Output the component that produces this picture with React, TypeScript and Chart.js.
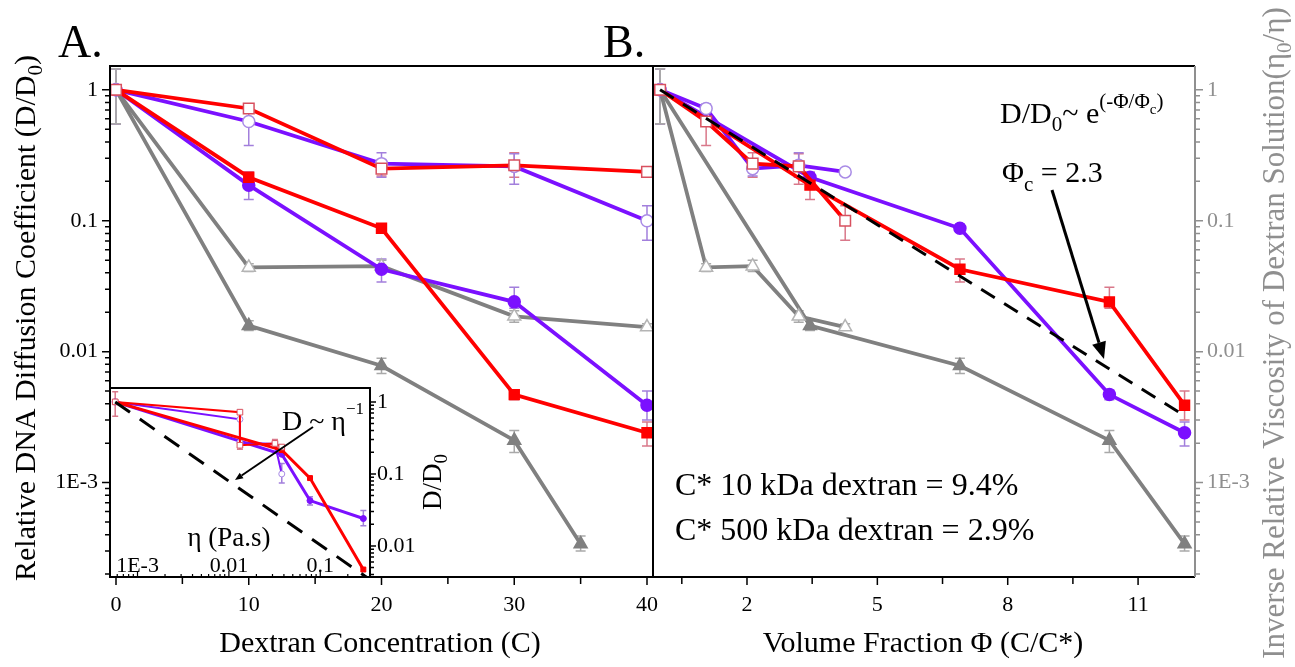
import React, { useEffect, useRef } from 'react';
import { Chart, registerables } from 'chart.js';

Chart.register(...registerables);

const SERIF = "'Liberation Serif', 'Times New Roman', serif";

// ---------- Panel A: x = dextran concentration (%) ----------
const concentration = [0, 10, 20, 30, 40];
const concentrationGrayFilled = [0, 10, 20, 30, 35];
// ---------- Panel B: x = volume fraction Φ = C/C* ----------
const phi10kDa = [0, 1.06, 2.13, 3.19, 4.26];
const phi500kDa = [0, 3.45, 6.9, 10.34, 12.07];

// ---------- D/D0 values ----------
const openUpper = [1, 0.72, 0.25, 0.265, 0.236];
const openLower = [1, 0.573, 0.273, 0.26, 0.1];
const filledUpper = [1, 0.215, 0.0875, 0.0047, 0.0024];
const filledLower = [1, 0.187, 0.0426, 0.024, 0.0039];
const grayOpen = [1, 0.044, 0.045, 0.0186, 0.0154];
const grayFilled = [1, 0.0158, 0.0078, 0.0021, 0.00034];

// ---------- error bars (low / high) ----------
const openUpperLo = [0.55, 0.68, 0.22, 0.215, 0.224];
const openUpperHi = [1.45, 0.78, 0.29, 0.33, 0.25];
const openLowerLo = [0.55, 0.375, 0.215, 0.19, 0.071];
const openLowerHi = [1.45, 0.74, 0.33, 0.325, 0.13];
const filledUpperLo = [0.55, 0.2, 0.082, 0.0043, 0.0019];
const filledUpperHi = [1.45, 0.235, 0.094, 0.0051, 0.0029];
const filledLowerLo = [0.55, 0.145, 0.034, 0.0215, 0.003];
const filledLowerHi = [1.45, 0.235, 0.051, 0.031, 0.005];
const grayOpenLo = [0.55, 0.041, 0.041, 0.0168, 0.0146];
const grayOpenHi = [1.45, 0.047, 0.05, 0.0205, 0.0163];
const grayFilledLo = [0.55, 0.0145, 0.0068, 0.0017, 0.0003];
const grayFilledHi = [1.45, 0.0172, 0.0089, 0.0025, 0.00039];

// ---------- inset: D/D0 vs viscosity η (Pa.s) ----------
const etaOpen = [5.7e-4, 0.0132, 0.0132, 0.0319, 0.0379];
const etaFilled = [5.7e-4, 0.0379, 0.0772, 0.296];
const insetFilledUpper = [1, 0.215, 0.0875, 0.0047];
const insetFilledLower = [1, 0.187, 0.0426, 0.024];
const insetOpenUpperLo = [0.63, null, 0.22, 0.24, null];
const insetOpenUpperHi = [1.38, null, 0.28, 0.3, null];
const insetOpenLowerLo = [null, null, null, null, 0.075];
const insetOpenLowerHi = [null, null, null, null, 0.14];
const insetFilledLowerLo = [null, null, 0.037, 0.019];
const insetFilledLowerHi = [null, null, 0.048, 0.031];
const powerLawEta = [5.7e-4, 0.35];
const powerLawD = [1, 0.0034];

// ---------- panel B exponential fit ----------
const expFitPhi = [0, 12.1];
const expFitD = [1, 0.0032];

// ---------- ticks ----------
const xTicksA = [0, 5, 10, 15, 20, 25, 30, 35, 40];
const xLabelsA = [0, 10, 20, 30, 40];
const xTicksB = [0.5, 2, 3.5, 5, 6.5, 8, 9.5, 11];
const xLabelsB = [2, 5, 8, 11];
const decadeLabels: Record<string, string> = { '0': '1', '-1': '0.1', '-2': '0.01', '-3': '1E-3' };
const insetXLabelValues = [0.001, 0.01, 0.1];
const insetXLabelTexts = ['1E-3', '0.01', '0.1'];

const Y_MIN = 1.9e-4, Y_MAX = 1.52;
const IN_Y_MIN = 0.0037, IN_Y_MAX = 1.56;
const IN_X_MIN = 5e-4, IN_X_MAX = 0.35;

const RED = '#ff0000';
const PURPLE = '#7b10ff';
const GRAY = '#808080';
const RED_EDGE = '#d8505f';
const PURPLE_EDGE = '#a98be6';
const GRAY_EDGE = '#b4b4b4';
const RED_ERR = '#d9788a';
const PURPLE_ERR = '#a27fdc';
const GRAY_ERR = '#a9a9a9';
const AXIS_GRAY = '#8f8f8f';

function logTickValues(min: number, max: number) {
  const out: number[] = [];
  for (let e = -5; e <= 1; e++) for (let m = 1; m <= 9; m++) {
    const v = m * Math.pow(10, e);
    if (v >= min && v <= max) out.push(v);
  }
  return out;
}
const isDecade = (v: number) => Math.abs(Math.log10(v) - Math.round(Math.log10(v))) < 1e-6;
const decadeLabel = (v: number) => (isDecade(v) ? decadeLabels[String(Math.round(Math.log10(v)))] ?? '' : '');

type Seg = { t: string; size: number; dy?: number };
function drawSegs(ctx: any, segs: Seg[], x: number, y: number, color: string, align = 'left') {
  ctx.save();
  ctx.fillStyle = color;
  ctx.textBaseline = 'alphabetic';
  ctx.textAlign = 'left';
  const widths = segs.map((s) => { ctx.font = `${s.size}px ${SERIF}`; return ctx.measureText(s.t).width; });
  const total = widths.reduce((a, b) => a + b, 0);
  let cx = align === 'center' ? x - total / 2 : align === 'right' ? x - total : x;
  segs.forEach((s, i) => { ctx.font = `${s.size}px ${SERIF}`; ctx.fillText(s.t, cx, y + (s.dy || 0)); cx += widths[i]; });
  ctx.restore();
}
function drawRotated(ctx: any, segs: Seg[], bx: number, cy: number, color: string) {
  ctx.save();
  ctx.translate(bx, cy);
  ctx.rotate(-Math.PI / 2);
  drawSegs(ctx, segs, 0, 0, color, 'center');
  ctx.restore();
}
function tickMarks(ctx: any, scale: any, values: number[], side: string, edge: number, majorLen: number, minorLen: number, color: string, isMajor: (v: number) => boolean, lw = 1.5) {
  ctx.save();
  ctx.strokeStyle = color;
  ctx.lineWidth = lw;
  ctx.beginPath();
  values.forEach((v) => {
    const len = isMajor(v) ? majorLen : minorLen;
    const p = scale.getPixelForValue(v);
    if (side === 'left') { ctx.moveTo(edge, p); ctx.lineTo(edge - len, p); }
    else if (side === 'right') { ctx.moveTo(edge, p); ctx.lineTo(edge + len, p); }
    else if (side === 'down') { ctx.moveTo(p, edge); ctx.lineTo(p, edge + len); }
    else { ctx.moveTo(p, edge); ctx.lineTo(p, edge - len); }
  });
  ctx.stroke();
  ctx.restore();
}
function arrow(ctx: any, x1: number, y1: number, x2: number, y2: number, head: number, width: number) {
  ctx.save();
  ctx.strokeStyle = '#000';
  ctx.fillStyle = '#000';
  ctx.lineWidth = width;
  const a = Math.atan2(y2 - y1, x2 - x1);
  const bx = x2 - head * Math.cos(a), by = y2 - head * Math.sin(a);
  ctx.beginPath(); ctx.moveTo(x1, y1); ctx.lineTo(bx, by); ctx.stroke();
  ctx.beginPath();
  ctx.moveTo(x2, y2);
  ctx.lineTo(bx + head * 0.42 * Math.sin(a), by - head * 0.42 * Math.cos(a));
  ctx.lineTo(bx - head * 0.42 * Math.sin(a), by + head * 0.42 * Math.cos(a));
  ctx.closePath(); ctx.fill();
  ctx.restore();
}
function drawErrorBars(chart: any) {
  const ctx = chart.ctx;
  chart.data.datasets.forEach((ds: any, i: number) => {
    if (!ds.errLo) return;
    const meta = chart.getDatasetMeta(i);
    const ys = chart.scales[meta.yAxisID];
    const cap = ds.errCap || 5;
    ctx.save();
    ctx.strokeStyle = ds.errColor;
    ctx.lineWidth = ds.errWidth || 1.5;
    ctx.beginPath();
    meta.data.forEach((pt: any, j: number) => {
      const lo = ds.errLo[j], hi = ds.errHi[j];
      if (lo == null || hi == null) return;
      const y1 = ys.getPixelForValue(lo), y2 = ys.getPixelForValue(hi);
      ctx.moveTo(pt.x, y1); ctx.lineTo(pt.x, y2);
      ctx.moveTo(pt.x - cap, y1); ctx.lineTo(pt.x + cap, y1);
      ctx.moveTo(pt.x - cap, y2); ctx.lineTo(pt.x + cap, y2);
    });
    ctx.stroke();
    ctx.restore();
  });
}

function series(xs: number[], ys: number[], o: any) {
  return {
    data: xs.map((x, i) => ({ x, y: ys[i] })),
    borderColor: o.color,
    borderWidth: o.width ?? 3.8,
    borderDash: o.dash ?? [],
    pointStyle: o.style ?? 'circle',
    pointRadius: o.r ?? 0,
    pointBackgroundColor: o.fill ?? o.color,
    pointBorderColor: o.edge ?? o.color,
    pointBorderWidth: o.pw ?? 1.5,
    fill: false,
    tension: 0,
    errLo: o.lo, errHi: o.hi, errColor: o.err, errCap: o.cap,
  };
}

const baseOptions = () => ({
  responsive: false,
  animation: false,
  events: [],
  plugins: { legend: { display: false }, tooltip: { enabled: false } },
});

const logAxis = (min: number, max: number, position: string, color: string, width: number, size: number, tickLength = 8, padding = 4) => ({
  type: 'logarithmic',
  position,
  min,
  max,
  afterBuildTicks: (s: any) => { s.ticks = logTickValues(min, max).map((v) => ({ value: v })); },
  ticks: { autoSkip: false, padding, color, font: { family: SERIF, size }, callback: (v: any) => decadeLabel(Number(v)) },
  grid: { drawOnChartArea: false, drawTicks: true, tickLength, tickColor: 'rgba(0,0,0,0)', color: 'rgba(0,0,0,0)' },
  border: { display: false },
  afterFit: (s: any) => { s.width = width; },
});

const linAxis = (min: number, max: number, ticks: number[], labels: number[]) => ({
  type: 'linear',
  min,
  max,
  afterBuildTicks: (s: any) => { s.ticks = ticks.map((v) => ({ value: v })); },
  ticks: { autoSkip: false, maxRotation: 0, padding: 7, color: '#000', font: { family: SERIF, size: 22 }, callback: (v: any) => (labels.includes(Number(v)) ? String(v) : '') },
  grid: { drawOnChartArea: false, drawTicks: true, tickLength: 8, tickColor: 'rgba(0,0,0,0)', color: 'rgba(0,0,0,0)' },
  border: { display: false },
  afterFit: (s: any) => { s.height = 90; },
});

function configA(): any {
  const plugin = {
    id: 'panelA',
    beforeDatasetsDraw: (chart: any) => drawErrorBars(chart),
    afterDraw: (chart: any) => {
      const { ctx, chartArea: ca } = chart;
      ctx.save();
      ctx.strokeStyle = '#000';
      ctx.lineWidth = 2;
      ctx.strokeRect(ca.left, ca.top, ca.right - ca.left, ca.bottom - ca.top);
      ctx.restore();
      tickMarks(ctx, chart.scales.y, logTickValues(Y_MIN, Y_MAX), 'left', ca.left, 8, 5, '#000', isDecade);
      tickMarks(ctx, chart.scales.x, xTicksA, 'down', ca.bottom, 8, 7, '#000', (v) => v % 10 === 0);
      drawSegs(ctx, [{ t: 'A.', size: 46 }], 58, 57, '#000');
      drawRotated(ctx, [{ t: 'Relative DNA Diffusion Coefficient (D/D', size: 30 }, { t: '0', size: 21, dy: 7 }, { t: ')', size: 30 }], 35, 318, '#000');
      drawSegs(ctx, [{ t: 'Dextran Concentration (C)', size: 30 }], 380, 652, '#000', 'center');
    },
  };
  return {
    type: 'line',
    data: {
      datasets: [
        series(concentration, openUpper, { color: RED, style: 'rect', r: 7.5, fill: '#fff', edge: RED_EDGE, lo: openUpperLo, hi: openUpperHi, err: RED_ERR }),
        series(concentration, filledUpper, { color: RED, style: 'rect', r: 7, fill: RED, edge: RED, lo: filledUpperLo, hi: filledUpperHi, err: RED_ERR }),
        series(concentration, openLower, { color: PURPLE, style: 'circle', r: 6, fill: '#fff', edge: PURPLE_EDGE, lo: openLowerLo, hi: openLowerHi, err: PURPLE_ERR }),
        series(concentration, filledLower, { color: PURPLE, style: 'circle', r: 6, fill: PURPLE, edge: PURPLE, lo: filledLowerLo, hi: filledLowerHi, err: PURPLE_ERR }),
        series(concentration, grayOpen, { color: GRAY, style: 'triangle', r: 7.5, fill: '#fff', edge: GRAY_EDGE, lo: grayOpenLo, hi: grayOpenHi, err: GRAY_ERR }),
        series(concentrationGrayFilled, grayFilled, { color: GRAY, style: 'triangle', r: 7.5, fill: GRAY, edge: GRAY, lo: grayFilledLo, hi: grayFilledHi, err: GRAY_ERR }),
      ],
    },
    options: {
      ...baseOptions(),
      layout: { padding: { left: 0, right: 20, top: 66, bottom: 0 } },
      scales: {
        x: linAxis(-0.452, 40.452, xTicksA, xLabelsA),
        y: logAxis(Y_MIN, Y_MAX, 'left', '#000', 110, 22),
      },
    },
    plugins: [plugin],
  };
}

const OX = 560;
function configB(): any {
  const plugin = {
    id: 'panelB',
    beforeDatasetsDraw: (chart: any) => drawErrorBars(chart),
    afterDraw: (chart: any) => {
      const { ctx, chartArea: ca } = chart;
      ctx.save();
      ctx.lineWidth = 2;
      ctx.strokeStyle = '#000';
      ctx.beginPath();
      ctx.moveTo(ca.right, ca.top); ctx.lineTo(ca.left, ca.top); ctx.lineTo(ca.left, ca.bottom); ctx.lineTo(ca.right, ca.bottom);
      ctx.stroke();
      ctx.strokeStyle = AXIS_GRAY;
      ctx.beginPath(); ctx.moveTo(ca.right, ca.top); ctx.lineTo(ca.right, ca.bottom); ctx.stroke();
      ctx.restore();
      tickMarks(ctx, chart.scales.y, logTickValues(Y_MIN, Y_MAX), 'right', ca.right, 8, 5, AXIS_GRAY, isDecade);
      tickMarks(ctx, chart.scales.x, xTicksB, 'down', ca.bottom, 8, 7, '#000', (v) => xLabelsB.includes(v));
      drawSegs(ctx, [{ t: 'B.', size: 46 }], 603 - OX, 57, '#000');
      drawRotated(ctx, [{ t: 'Inverse Relative Viscosity of Dextran Solution(η', size: 31 }, { t: '0', size: 21, dy: 7 }, { t: '/η)', size: 31 }], 1284 - OX, 333, AXIS_GRAY);
      drawSegs(ctx, [{ t: 'Volume Fraction Φ (C/C*)', size: 30 }], 923 - OX, 652, '#000', 'center');
      drawSegs(ctx, [
        { t: 'D/D', size: 30 }, { t: '0', size: 21, dy: 8 }, { t: '~ e', size: 30 },
        { t: '(-Φ/Φ', size: 21, dy: -15 }, { t: 'c', size: 15, dy: -9 }, { t: ')', size: 21, dy: -15 },
      ], 1000 - OX, 123, '#000');
      drawSegs(ctx, [{ t: 'Φ', size: 30 }, { t: 'c', size: 21, dy: 9 }, { t: ' = 2.3', size: 30 }], 1002 - OX, 182, '#000');
      arrow(ctx, 1052 - OX, 190, 1104 - OX, 359, 17, 3);
      drawSegs(ctx, [{ t: 'C* 10 kDa dextran = 9.4%', size: 32 }], 675 - OX, 495, '#000');
      drawSegs(ctx, [{ t: 'C* 500 kDa dextran = 2.9%', size: 32 }], 675 - OX, 540, '#000');
    },
  };
  return {
    type: 'line',
    data: {
      datasets: [
        series(expFitPhi, expFitD, { color: '#000', width: 3, dash: [16, 11], r: 0 }),
        series(phi10kDa, openLower, { color: RED, style: 'rect', r: 7.5, fill: '#fff', edge: RED_EDGE, lo: openLowerLo, hi: openLowerHi, err: RED_ERR }),
        series(phi500kDa, filledLower, { color: RED, style: 'rect', r: 7, fill: RED, edge: RED, lo: filledLowerLo, hi: filledLowerHi, err: RED_ERR }),
        series(phi10kDa, openUpper, { color: PURPLE, style: 'circle', r: 6, fill: '#fff', edge: PURPLE_EDGE, lo: openUpperLo, hi: openUpperHi, err: PURPLE_ERR }),
        series(phi500kDa, filledUpper, { color: PURPLE, style: 'circle', r: 6, fill: PURPLE, edge: PURPLE, lo: filledUpperLo, hi: filledUpperHi, err: PURPLE_ERR }),
        series(phi10kDa, grayOpen, { color: GRAY, style: 'triangle', r: 7.5, fill: '#fff', edge: GRAY_EDGE, lo: grayOpenLo, hi: grayOpenHi, err: GRAY_ERR }),
        series(phi500kDa, grayFilled, { color: GRAY, style: 'triangle', r: 7.5, fill: GRAY, edge: GRAY, lo: grayFilledLo, hi: grayFilledHi, err: GRAY_ERR }),
      ],
    },
    options: {
      ...baseOptions(),
      layout: { padding: { left: 653 - OX, right: 0, top: 66, bottom: 0 } },
      scales: {
        x: linAxis(-0.163, 12.31, xTicksB, xLabelsB),
        y: logAxis(Y_MIN, Y_MAX, 'right', AXIS_GRAY, 100, 22),
      },
    },
    plugins: [plugin],
  };
}

const IX = 100, IY = 360;
function configInset(): any {
  const plugin = {
    id: 'inset',
    beforeDraw: (chart: any) => {
      const { ctx, chartArea: ca } = chart;
      ctx.save(); ctx.fillStyle = '#fff'; ctx.fillRect(ca.left, ca.top, ca.right - ca.left, ca.bottom - ca.top); ctx.restore();
    },
    beforeDatasetsDraw: (chart: any) => drawErrorBars(chart),
    afterDraw: (chart: any) => {
      const { ctx, chartArea: ca } = chart;
      const xs = chart.scales.x;
      ctx.save();
      ctx.strokeStyle = '#000';
      ctx.lineWidth = 2;
      ctx.strokeRect(ca.left, ca.top, ca.right - ca.left, ca.bottom - ca.top);
      ctx.restore();
      tickMarks(ctx, chart.scales.y, logTickValues(IN_Y_MIN, IN_Y_MAX), 'right', ca.right, 6, 4, '#000', isDecade);
      tickMarks(ctx, xs, logTickValues(IN_X_MIN, IN_X_MAX), 'up', ca.bottom, 6, 3, '#000', isDecade, 1.2);
      insetXLabelValues.forEach((v, i) => drawSegs(ctx, [{ t: insetXLabelTexts[i], size: 22 }], xs.getPixelForValue(v), ca.bottom - 5, '#000', 'center'));
      drawRotated(ctx, [{ t: 'D/D', size: 27 }, { t: '0', size: 19, dy: 6 }], 441 - IX, 482 - IY, '#000');
      drawSegs(ctx, [{ t: 'η (Pa.s)', size: 27 }], 229 - IX, 546 - IY, '#000', 'center');
      drawSegs(ctx, [{ t: 'D ~ η', size: 28 }, { t: '−1', size: 17, dy: -16 }], 282 - IX, 430 - IY, '#000');
      arrow(ctx, 313 - IX, 427 - IY, 235 - IX, 480 - IY, 8, 2);
    },
  };
  return {
    type: 'line',
    data: {
      datasets: [
        series(powerLawEta, powerLawD, { color: '#000', width: 3, dash: [18, 12], r: 0 }),
        series(etaOpen, openUpper, { color: RED, width: 2, style: 'rect', r: 4, fill: '#fff', edge: RED_EDGE, pw: 1, lo: insetOpenUpperLo, hi: insetOpenUpperHi, err: RED_ERR, cap: 3 }),
        series(etaFilled, insetFilledUpper, { color: RED, width: 3, style: 'rect', r: 3.5, fill: RED, edge: RED, pw: 1 }),
        series(etaOpen, openLower, { color: PURPLE, width: 2, style: 'circle', r: 3, fill: '#fff', edge: PURPLE_EDGE, pw: 1, lo: insetOpenLowerLo, hi: insetOpenLowerHi, err: PURPLE_ERR, cap: 3 }),
        series(etaFilled, insetFilledLower, { color: PURPLE, width: 3, style: 'circle', r: 3, fill: PURPLE, edge: PURPLE, pw: 1, lo: insetFilledLowerLo, hi: insetFilledLowerHi, err: PURPLE_ERR, cap: 3 }),
      ],
    },
    options: {
      ...baseOptions(),
      layout: { padding: { left: 110 - IX, right: 0, top: 388 - IY, bottom: 3 } },
      scales: {
        x: {
          type: 'logarithmic', min: IN_X_MIN, max: IN_X_MAX,
          ticks: { display: false }, grid: { display: false }, border: { display: false },
          afterFit: (s: any) => { s.height = 20; },
        },
        y: logAxis(IN_Y_MIN, IN_Y_MAX, 'right', '#000', 90, 22, 6, 1),
      },
    },
    plugins: [plugin],
  };
}

export default function App() {
  const refA = useRef<HTMLCanvasElement>(null);
  const refB = useRef<HTMLCanvasElement>(null);
  const refI = useRef<HTMLCanvasElement>(null);
  useEffect(() => {
    const charts = [
      new Chart(refA.current as HTMLCanvasElement, configA()),
      new Chart(refB.current as HTMLCanvasElement, configB()),
      new Chart(refI.current as HTMLCanvasElement, configInset()),
    ];
    return () => charts.forEach((c) => c.destroy());
  }, []);
  return (
    <div style={{ position: 'absolute', left: 0, top: 0, width: 1295, height: 667, background: '#fff', overflow: 'hidden' }}>
      <canvas ref={refA} width={673} height={667} style={{ position: 'absolute', left: 0, top: 0 }} />
      <canvas ref={refB} width={735} height={667} style={{ position: 'absolute', left: OX, top: 0 }} />
      <canvas ref={refI} width={360} height={240} style={{ position: 'absolute', left: IX, top: IY }} />
    </div>
  );
}
